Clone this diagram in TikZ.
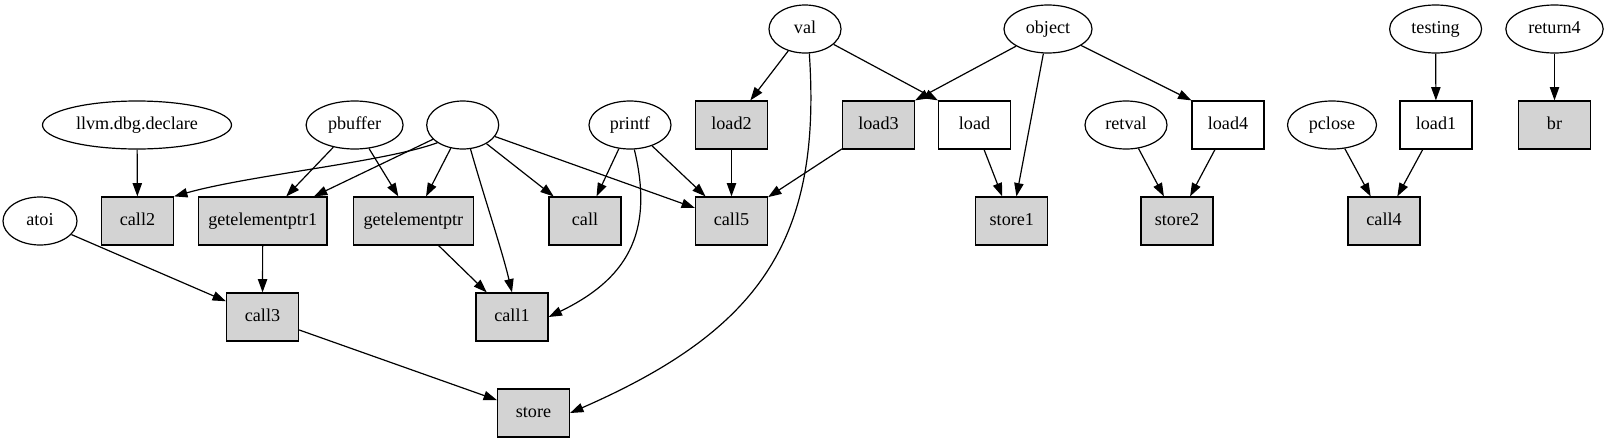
\documentclass[tikz,border=0pt]{standalone}
\usepackage{fontspec}
\setmainfont{Liberation Serif}
\usetikzlibrary{shapes.geometric,arrows.meta}
\definecolor{lgray}{HTML}{D3D3D3}
\tikzset{
  lbl/.style={font=\fontsize{13.6}{16}\selectfont, text height=9.3pt, text depth=2.9pt},
  ell/.style={draw, ellipse, lbl, line width=0.9pt, minimum width=#1, minimum height=36pt, inner xsep=0pt, inner ysep=0pt},
  ell/.default=54pt,
  box/.style={draw, rectangle, lbl, line width=0.9pt, minimum width=54pt, minimum height=36pt, inner xsep=7.5pt, inner ysep=0pt},
  gbox/.style={box, fill=lgray},
  edge/.style={line width=0.9pt, -{Triangle[length=10pt, width=7pt]}}
}
\begin{document}
\begin{tikzpicture}[x=0.75pt, y=-0.75pt]
\useasboundingbox (0,0) rectangle (1609,443);
% row 1
\node[ell] (val) at (805,29) {val};
\node[ell=66pt] (object) at (1048,29) {object};
\node[ell=69pt] (testing) at (1435.6,29) {testing};
\node[ell=73pt] (return4) at (1554.5,29) {return4};
% row 2
\node[ell=141.75pt] (llvm) at (137,125) {llvm.dbg.declare};
\node[ell=72.75pt] (pbuffer) at (354.6,125) {pbuffer};
\node[ell] (empty) at (462.7,125) {};
\node[ell=61.5pt] (printf) at (630,125) {printf};
\node[gbox] (load2) at (731.5,125) {load2};
\node[gbox] (load3) at (878.5,125) {load3};
\node[box] (load) at (974.5,125) {load};
\node[ell=61.5pt] (retval) at (1126,125) {retval};
\node[box] (load4) at (1228,125) {load4};
\node[ell=66.75pt] (pclose) at (1332,125) {pclose};
\node[box] (load1) at (1436,125) {load1};
\node[gbox] (br) at (1554.5,125) {br};
% row 3
\node[ell=55.5pt] (atoi) at (40,221) {atoi};
\node[gbox] (call2) at (137.5,221) {call2};
\node[gbox] (gep1) at (262.7,221) {getelementptr1};
\node[gbox] (gep) at (413.4,221) {getelementptr};
\node[gbox] (call) at (585,221) {call};
\node[gbox] (call5) at (731.5,221) {call5};
\node[gbox] (store1) at (1011.8,221) {store1};
\node[gbox] (store2) at (1177,221) {store2};
\node[gbox] (call4) at (1384,221) {call4};
% row 4
\node[gbox] (call3) at (262.5,317) {call3};
\node[gbox] (call1) at (512,317) {call1};
% row 5
\node[gbox] (store) at (533.5,413) {store};
% edges
\draw[edge] (llvm) -- (call2);
\draw[edge] (empty.215) .. controls (385,162) and (250,175) .. (call2.north east);
\draw[edge] (pbuffer) -- (gep1);
\draw[edge] (pbuffer) -- (gep);
\draw[edge] (empty) -- (gep1);
\draw[edge] (empty) -- (gep);
\draw[edge] (empty.-72) .. controls (485,200) and (502,250) .. (call1.north);
\draw[edge] (empty) -- (call);
\draw[edge] (empty) -- (call5);
\draw[edge] (printf) -- (call);
\draw[edge] (printf.-80) .. controls (655,235) and (625,280) .. (call1.east);
\draw[edge] (printf) -- (call5);
\draw[edge] (val) -- (load2);
\draw[edge] (val) -- (load.north west);
\draw[edge] (val.-80) .. controls (822,240) and (760,330) .. (store.east);
\draw[edge] (object) -- (load3.north east);
\draw[edge] (object) -- (store1);
\draw[edge] (object) -- (load4.north west);
\draw[edge] (load2) -- (call5);
\draw[edge] (load3) -- (call5);
\draw[edge] (load) -- (store1);
\draw[edge] (retval) -- (store2);
\draw[edge] (load4) -- (store2);
\draw[edge] (pclose) -- (call4);
\draw[edge] (load1) -- (call4);
\draw[edge] (testing) -- (load1);
\draw[edge] (return4) -- (br);
\draw[edge] (atoi) -- (call3);
\draw[edge] (gep1) -- (call3);
\draw[edge] (gep) -- (call1);
\draw[edge] (call3) -- (store);
\end{tikzpicture}
\end{document}
